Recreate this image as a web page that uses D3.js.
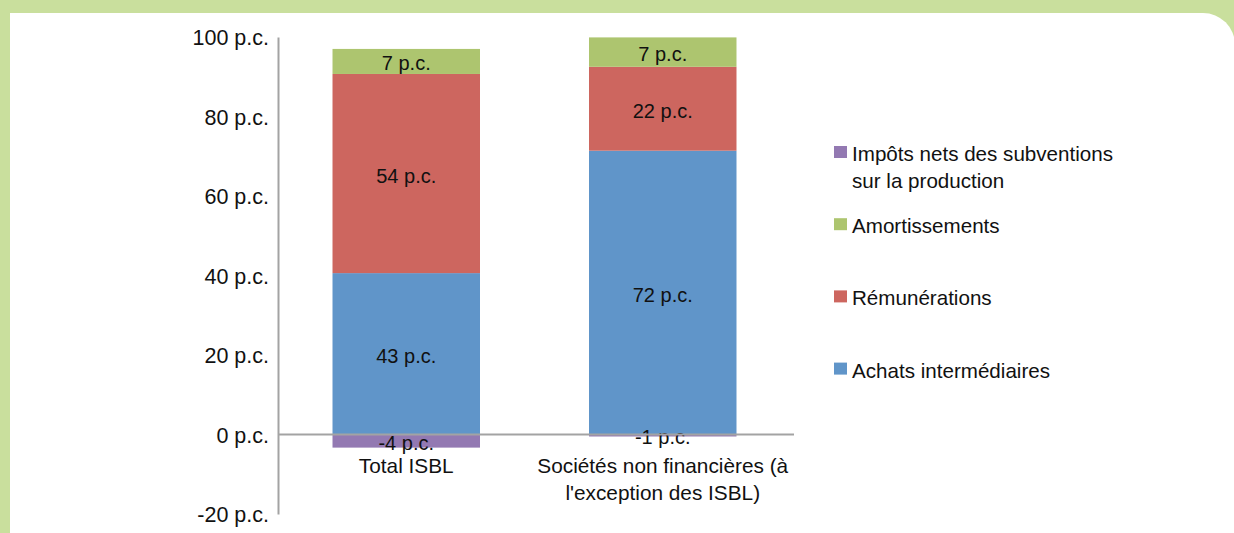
<!DOCTYPE html>
<html>
<head>
<meta charset="utf-8">
<script src="https://cdn.jsdelivr.net/npm/d3@7"></script>
<style>
  html, body { margin: 0; padding: 0; background: #c9df9d; }
  svg { display: block; }
  text { font-family: "Liberation Sans", Arial, sans-serif; fill: #111; }
</style>
</head>
<body>
<div id="container"></div>
<script>
var width = 1234;
var height = 533;

// categories (one entry per line of the label)
var categories = ["Total ISBL", "Sociétés non financières (à l'exception des ISBL)"];
var categoryLines = [["Total ISBL"], ["Sociétés non financières (à", "l'exception des ISBL)"]];

// series values (p.c.)
var achats = [40.6, 71.4];
var remunerations = [50.1, 21.1];
var amortissements = [6.3, 7.4];
var impots = [-3.3, -0.5];

// printed data labels
var achatsLabels = [43, 72];
var remunerationsLabels = [54, 22];
var amortissementsLabels = [7, 7];
var impotsLabels = [-4, -1];

var yTicks = [-20, 0, 20, 40, 60, 80, 100];

var seriesNames = ["Achats intermédiaires", "Rémunérations", "Amortissements", "Impôts nets des subventions sur la production"];
var legendOrder = ["Impôts nets des subventions sur la production", "Amortissements", "Rémunérations", "Achats intermédiaires"];
var legendLines = [["Impôts nets des subventions", "sur la production"], ["Amortissements"], ["Rémunérations"], ["Achats intermédiaires"]];

var colors = {
  "Achats intermédiaires": "#6095c9",
  "Rémunérations": "#cd665f",
  "Amortissements": "#adc56f",
  "Impôts nets des subventions sur la production": "#9379b2"
};

var table = categories.map(function(c, i) {
  return {
    cat: c,
    "Achats intermédiaires": achats[i],
    "Rémunérations": remunerations[i],
    "Amortissements": amortissements[i],
    "Impôts nets des subventions sur la production": impots[i]
  };
});
var labelTable = {
  "Achats intermédiaires": achatsLabels,
  "Rémunérations": remunerationsLabels,
  "Amortissements": amortissementsLabels,
  "Impôts nets des subventions sur la production": impotsLabels
};

const SVG = d3.select("#container")
              .append("svg")
              .attr("width", width)
              .attr("height", height);

// white panel, rounded top-right corner
var px = 10, py = 13, pr = 32, pw = 1235;
SVG.append("path")
   .attr("d", "M" + px + "," + py + "H" + (pw - pr) + "A" + pr + "," + pr + " 0 0 1 " + pw + "," + (py + pr) + "V" + (height + 10) + "H" + px + "Z")
   .attr("fill", "#ffffff");

const x = d3.scaleBand()
            .domain(categories)
            .range([278, 791])
            .paddingInner(0.425)
            .paddingOuter(0.2125);

const y = d3.scaleLinear()
            .domain([-20, 100])
            .range([514, 37]);

const stack = d3.stack()
                .keys(seriesNames)
                .offset(d3.stackOffsetDiverging);
const stacked = stack(table);

const groups = SVG.selectAll("g.series")
                  .data(stacked)
                  .enter()
                  .append("g")
                  .attr("class", "series")
                  .attr("fill", (d) => colors[d.key]);

groups.selectAll("rect")
      .data((d) => d)
      .enter()
      .append("rect")
      .attr("x", (d) => x(d.data.cat))
      .attr("y", (d) => y(Math.max(d[0], d[1])))
      .attr("width", x.bandwidth())
      .attr("height", (d) => Math.abs(y(d[0]) - y(d[1])));

// axes
const yAxis = SVG.append("g")
                 .attr("transform", "translate(278,0)")
                 .call(d3.axisLeft(y).tickValues(yTicks).tickSize(0).tickPadding(9).tickFormat((d) => d + " p.c."));
yAxis.select(".domain").attr("stroke", "#a3a3a3").attr("stroke-width", 2);
yAxis.selectAll("text").style("font-size", "21.5px").attr("dy", "0.36em").style("fill", "#111");

SVG.append("line")
   .attr("x1", 278)
   .attr("x2", 794)
   .attr("y1", y(0))
   .attr("y2", y(0))
   .attr("stroke", "#a3a3a3")
   .attr("stroke-width", 2);

// data labels
groups.each(function(s) {
  d3.select(this).selectAll("text")
    .data(s)
    .enter()
    .append("text")
    .attr("x", (d) => x(d.data.cat) + x.bandwidth() / 2)
    .attr("y", (d) => (y(d[0]) + y(d[1])) / 2)
    .attr("dy", "0.45em")
    .attr("text-anchor", "middle")
    .style("font-size", "20px")
    .text((d, i) => labelTable[s.key][i] + " p.c.");
});

// category labels
SVG.selectAll("text.cat")
   .data(categories)
   .enter()
   .append("text")
   .attr("class", "cat")
   .attr("text-anchor", "middle")
   .style("font-size", "20.8px")
   .each(function(d, i) {
     var t = d3.select(this);
     categoryLines[i].forEach(function(line, j) {
       t.append("tspan")
        .attr("x", x(d) + x.bandwidth() / 2)
        .attr("y", 473 + j * 27)
        .text(line);
     });
   });

// legend
const legend = SVG.selectAll("g.legend")
                  .data(legendOrder)
                  .enter()
                  .append("g")
                  .attr("class", "legend")
                  .attr("transform", (d, i) => "translate(834," + (161 + i * 72.2) + ")");

legend.append("rect")
      .attr("x", 0)
      .attr("y", -15)
      .attr("width", 13)
      .attr("height", 12)
      .attr("fill", (d) => colors[d]);

legend.append("text")
      .style("font-size", "20.6px")
      .each(function(d, i) {
        var t = d3.select(this);
        legendLines[i].forEach(function(line, j) {
          t.append("tspan")
           .attr("x", 18)
           .attr("y", j * 26.6)
           .text(line);
        });
      });
</script>
</body>
</html>
